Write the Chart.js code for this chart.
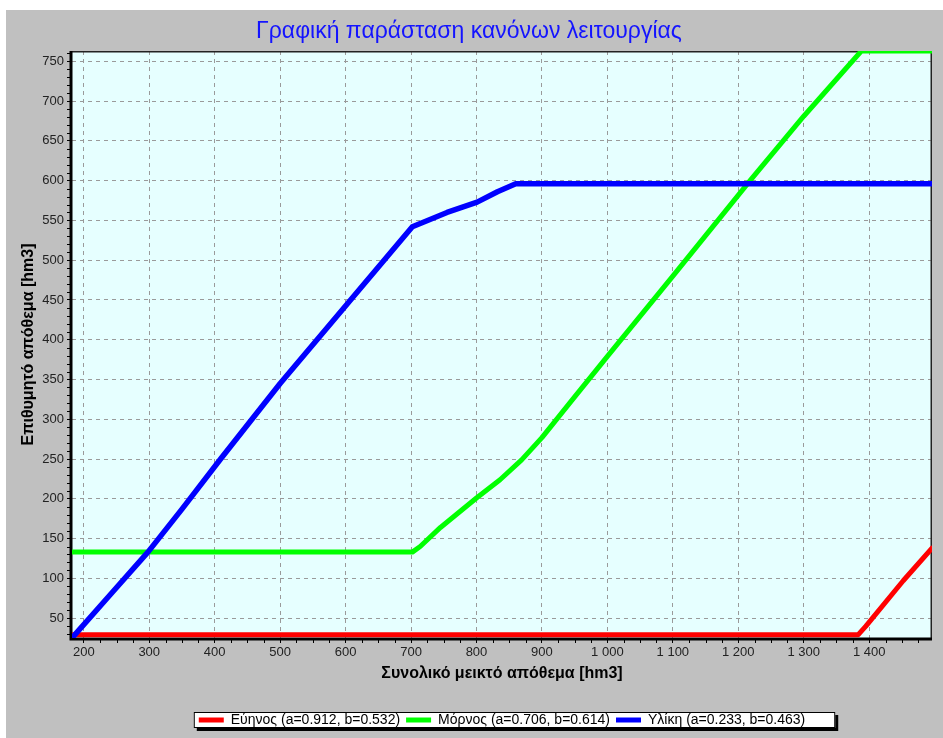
<!DOCTYPE html>
<html>
<head>
<meta charset="utf-8">
<script src="https://cdn.jsdelivr.net/npm/chart.js@4"></script>
<style>
  body { margin: 0; background: #fff; }
  #wrap { position: absolute; left: 6px; top: 10px; width: 937px; height: 728px; background: #c0c0c0; }
</style>
</head>
<body>
<div id="wrap"><canvas id="chartRules" width="937" height="728"></canvas></div>
<script>
const chartRules = document.getElementById('chartRules');

const xTicks = [200, 300, 400, 500, 600, 700, 800, 900, 1000, 1100, 1200, 1300, 1400];
const yTicks = [50, 100, 150, 200, 250, 300, 350, 400, 450, 500, 550, 600, 650, 700, 750];

// Εύηνος
const evinosX = [182, 1383, 1395, 1452, 1496];
const evinosY = [29, 29, 40, 97, 138];
// Μόρνος
const mornosX = [182, 702, 714, 745, 800, 836, 869, 900, 946, 1000, 1100, 1218, 1300, 1388, 1496];
const mornosY = [133, 133, 140, 164, 201, 224, 249, 277, 324, 379, 480, 600, 681, 763, 763];
// Υλίκη
const ylikiX = [182, 240, 298, 350, 409, 500, 702, 755, 801, 832, 860, 1496];
const ylikiY = [25, 79, 133, 187, 250, 345, 542, 560, 573, 586, 596, 596];

const labels = [
  'Εύηνος (a=0.912, b=0.532)',
  'Μόρνος (a=0.706, b=0.614)',
  'Υλίκη (a=0.233, b=0.463)',
];

const toPoints = (xs, ys) => xs.map((x, i) => ({x: x, y: ys[i]}));
const fmt = v => String(v).replace(/\B(?=(\d{3})+(?!\d))/g, ' ');

Chart.defaults.font.family = '"Liberation Sans", Arial, sans-serif';

// background of the plot, frame, legend box and minor ticks
const panel = {
  id: 'panel',
  beforeDraw(chart) {
    const {ctx, chartArea: a} = chart;
    ctx.save();
    ctx.fillStyle = '#e6ffff';
    ctx.fillRect(a.left, a.top, a.right - a.left, a.bottom - a.top);
    const boxes = chart.legend.legendHitBoxes;
    if (boxes && boxes.length) {
      const first = boxes[0], last = boxes[boxes.length - 1];
      const x0 = first.left - 5, x1 = last.left + last.width + 30;
      const y0 = first.top - 1, y1 = first.top + first.height + 1;
      ctx.fillStyle = '#000';
      ctx.fillRect(x0 + 3, y0 + 3, x1 - x0, y1 - y0);
      ctx.fillStyle = '#fff';
      ctx.fillRect(x0, y0, x1 - x0, y1 - y0);
      ctx.strokeStyle = '#000';
      ctx.lineWidth = 1;
      ctx.strokeRect(x0 + 0.5, y0 + 0.5, x1 - x0 - 1, y1 - y0 - 1);
    }
    ctx.restore();
  },
  beforeDatasetsDraw(chart) {
    const {ctx, chartArea: a} = chart;
    ctx.save();
    ctx.strokeStyle = '#222';
    ctx.lineWidth = 1.5;
    ctx.beginPath();
    ctx.moveTo(a.left, a.top + 0.75);
    ctx.lineTo(a.right - 0.75, a.top + 0.75);
    ctx.lineTo(a.right - 0.75, a.bottom);
    ctx.stroke();
    ctx.strokeStyle = '#000';
    ctx.lineWidth = 3;
    ctx.beginPath();
    ctx.moveTo(a.left - 1, a.top);
    ctx.lineTo(a.left - 1, a.bottom + 1);
    ctx.lineTo(a.right, a.bottom + 1);
    ctx.stroke();
    ctx.restore();
  },
  afterDraw(chart) {
    const {ctx, chartArea: a, scales} = chart;
    ctx.save();
    ctx.strokeStyle = '#000';
    ctx.lineWidth = 1;
    ctx.beginPath();
    for (let v = 200; v < 1500; v += 25) {
      if (v % 100 === 0) continue;
      const px = Math.round(scales.x.getPixelForValue(v)) + 0.5;
      ctx.moveTo(px, a.bottom + 2);
      ctx.lineTo(px, a.bottom + 5);
    }
    for (let v = 30; v < 763; v += 10) {
      if (v % 50 === 0) continue;
      const py = Math.round(scales.y.getPixelForValue(v)) + 0.5;
      ctx.moveTo(a.left - 5, py);
      ctx.lineTo(a.left - 2, py);
    }
    ctx.stroke();
    ctx.restore();
  },
};

const gridOpts = {
  color: '#9a9a9a',
  lineWidth: 1,
  tickColor: '#000',
  tickLength: 5,
  tickBorderDash: [],
};

new Chart(chartRules, {
  type: 'line',
  data: {
    datasets: [
      {
        label: labels[0],
        data: toPoints(evinosX, evinosY),
        borderColor: '#ff0000',
        backgroundColor: '#ff0000',
        borderWidth: 5,
        order: 2,
      },
      {
        label: labels[1],
        data: toPoints(mornosX, mornosY),
        borderColor: '#00ff00',
        backgroundColor: '#00ff00',
        borderWidth: 5,
        order: 1,
      },
      {
        label: labels[2],
        data: toPoints(ylikiX, ylikiY),
        borderColor: '#0000ff',
        backgroundColor: '#0000ff',
        borderWidth: 5.5,
        order: 0,
      },
    ],
  },
  options: {
    responsive: false,
    animation: false,
    layout: { padding: { left: 0, right: 11, top: 0, bottom: 1 } },
    elements: {
      point: { radius: 0 },
      line: { tension: 0, borderJoinStyle: 'round', borderCapStyle: 'round' },
    },
    scales: {
      x: {
        type: 'linear',
        min: 182,
        max: 1496,
        afterBuildTicks: s => { s.ticks = xTicks.map(v => ({value: v})); },
        afterFit: s => { s.height = 69; },
        grid: gridOpts,
        border: { display: false, dash: [4, 4] },
        ticks: {
          autoSkip: false,
          maxRotation: 0,
          padding: 2,
          color: '#222',
          font: { size: 13 },
          callback: v => fmt(v),
        },
        title: {
          display: true,
          text: 'Συνολικό μεικτό απόθεμα [hm3]',
          color: '#000',
          font: { size: 16, weight: 'bold' },
          padding: { top: 0, bottom: 24 },
        },
      },
      y: {
        type: 'linear',
        min: 25,
        max: 763,
        afterBuildTicks: s => { s.ticks = yTicks.map(v => ({value: v})); },
        afterFit: s => { s.width = 66; },
        grid: gridOpts,
        border: { display: false, dash: [4, 4] },
        ticks: {
          autoSkip: false,
          padding: 3,
          color: '#222',
          font: { size: 13 },
        },
        title: {
          display: true,
          text: 'Επιθυμητό απόθεμα [hm3]',
          color: '#000',
          font: { size: 16, weight: 'bold' },
          padding: { top: 13, bottom: 0 },
        },
      },
    },
    plugins: {
      title: {
        display: true,
        text: 'Γραφική παράσταση κανόνων λειτουργίας',
        color: '#1414ff',
        font: { size: 23, weight: 'normal' },
        padding: { top: 8, bottom: 5.4 },
      },
      legend: {
        position: 'bottom',
        fullSize: false,
        labels: {
          boxWidth: 25,
          boxHeight: 5,
          padding: 6,
          color: '#000',
          font: { size: 14 },
          generateLabels: chart => chart.data.datasets.map((ds, i) => ({
            text: ds.label,
            fillStyle: ds.borderColor,
            strokeStyle: ds.borderColor,
            lineWidth: 0,
            hidden: false,
            datasetIndex: i,
          })),
        },
      },
      tooltip: { enabled: false },
    },
  },
  plugins: [panel],
});
</script>
</body>
</html>
